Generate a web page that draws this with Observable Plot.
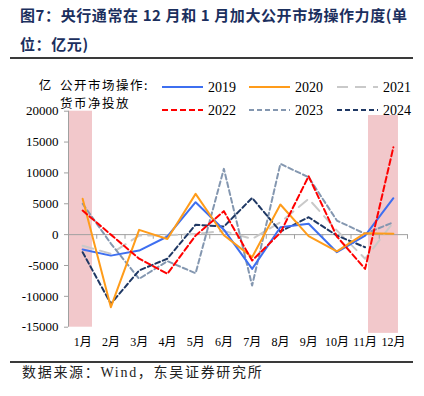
<!DOCTYPE html>
<html>
<head>
<meta charset="utf-8">
<script src="https://cdn.jsdelivr.net/npm/d3@7"></script>
<script src="https://cdn.jsdelivr.net/npm/@observablehq/plot@0.6"></script>
<style>
  html, body { margin: 0; padding: 0; background: #fff; }
  #page { position: relative; width: 424px; height: 396px; overflow: hidden; background: #fff; }
  #title { position: absolute; left: 20px; top: 0px; width: 400px; font-family: "Noto Sans CJK SC", sans-serif; font-weight: bold; font-size: 15px; line-height: 29px; color: #1b2f5e; letter-spacing: 0.6px; white-space: nowrap; }
  .rule { position: absolute; left: 10px; width: 403px; height: 2px; background: #3a3a3a; }
  #chart { position: absolute; left: 0; top: 60px; }
  #legend { position: absolute; left: 0; top: 60px; }
  #source { position: absolute; left: 22px; top: 363px; font-family: "Liberation Serif", "Noto Sans CJK SC", serif; font-size: 14px; line-height: 20px; color: #222; letter-spacing: 1.7px; white-space: nowrap; }
</style>
</head>
<body>
<div id="page">
  <div id="title">图7：央行通常在 12 月和 1 月加大公开市场操作力度(单<br>位：亿元)</div>
  <div class="rule" style="top:57px"></div>
  <div id="chart"></div>
  <svg id="legend" width="424" height="62"></svg>
  <div class="rule" style="top:361px"></div>
  <div id="source">数据来源：Wind，东吴证券研究所</div>
</div>
<script>
// ---- data ----
const months = ["1月","2月","3月","4月","5月","6月","7月","8月","9月","10月","11月","12月"];
const years = ["2019","2020","2021","2022","2023","2024"];
const s2019 = [-2400, -3400, -2580, -300, 5250, 800, -5550, 1200, 1750, -2850, -150, 5900];
const s2020 = [5800, -11760, 770, -700, 6600, -100, -3650, 4880, -250, -2700, 230, 130];
const s2021 = [-1800, -3100, -150, -100, 100, 600, -700, 2000, 5800, 660, -3900, 2000];
const s2022 = [3900, 0, -3900, -6350, -150, 3800, -4200, 300, 9460, -300, -5550, 14150];
const s2023 = [5000, -1450, -7160, -4300, -6250, 10660, -8250, 11470, 9300, 2280, 130, 2000];
const s2024 = [-2850, -11200, -5800, -3900, 1600, 1300, 5950, 500, 2820, -150, -2040];
const yTicks = [-15000, -10000, -5000, 0, 5000, 10000, 15000, 20000];
// highlighted periods (month index units)
const highlightBands = [
  {x1: 0.5, x2: 1.35, y1: -15000, y2: 20000},
  {x1: 11.12, x2: 12.18, y1: -16000, y2: 19300}
];

// ---- styling ----
const seriesValues = [s2019, s2020, s2021, s2022, s2023, s2024];
const styles = {
  "2019": {stroke: "#3e6ff0", dash: null},
  "2020": {stroke: "#ff9c1a", dash: null},
  "2021": {stroke: "#c9c9c9", dash: "11,7"},
  "2022": {stroke: "#ff0000", dash: "6,3"},
  "2023": {stroke: "#8497b0", dash: "5,3"},
  "2024": {stroke: "#1f3864", dash: "5,3"}
};
const drawOrder = ["2021","2023","2024","2019","2020","2022"];
const serif = '"Liberation Serif", "Times New Roman", "Noto Sans CJK SC", serif';

const xDomain = [0.5, months.length + 0.5];
const yDomain = [yTicks[0], yTicks[yTicks.length - 1]];
const monthIdx = months.map((_, i) => i + 1);
const boundaries = months.map((_, i) => i + 1.5);

const rowsFor = y => seriesValues[years.indexOf(y)].map((v, i) => ({m: i + 1, v}));

const lineMarks = drawOrder.map(y => Plot.line(rowsFor(y), {
  x: "m", y: "v",
  stroke: styles[y].stroke,
  strokeWidth: 2,
  strokeDasharray: styles[y].dash,
  strokeLinejoin: "round"
}));

const chart = Plot.plot({
  width: 424, height: 295,
  marginLeft: 68, marginRight: 17, marginTop: 50.7, marginBottom: 28.3,
  x: {domain: xDomain, axis: null},
  y: {domain: yDomain, axis: null},
  style: {fontFamily: serif, fontSize: "13px", background: "transparent", color: "#000"},
  marks: [
    Plot.rect(highlightBands, {x1: "x1", x2: "x2", y1: "y1", y2: "y2", fill: "#f2c8cb"}),
    Plot.ruleX([xDomain[0]], {y1: yDomain[0], y2: yDomain[1], stroke: "#a0a0a0"}),
    Plot.axisY({ticks: yTicks, tickSize: 4, tickPadding: 6, tickFormat: d => String(d), stroke: "#a0a0a0", fill: "#000", fontSize: 13}),
    Plot.ruleY([0], {x1: xDomain[0], x2: xDomain[1], stroke: "#a0a0a0"}),
    Plot.ruleX(boundaries, {y1: 0, y2: -750, stroke: "#a0a0a0"}),
    Plot.axisX({ticks: monthIdx, tickSize: 0, tickPadding: 10, tickFormat: i => months[i - 1], fill: "#000", fontSize: 12}),
    ...lineMarks
  ]
});
document.getElementById("chart").appendChild(chart);

// ---- legend ----
const cjk = '"Noto Sans CJK SC", sans-serif';
const leg = d3.select("#legend");
leg.append("text").attr("x", 45).attr("y", 24).attr("text-anchor", "middle")
  .attr("dominant-baseline", "central").attr("font-family", cjk)
  .attr("font-size", 12.5).attr("fill", "#000").text("亿");
leg.append("text").attr("x", 60).attr("y", 24).attr("dominant-baseline", "central")
  .attr("font-family", cjk).attr("font-size", 12.5).attr("letter-spacing", 1.5)
  .attr("fill", "#000").text("公开市场操作:");
leg.append("text").attr("x", 60).attr("y", 42).attr("dominant-baseline", "central")
  .attr("font-family", cjk).attr("font-size", 12.5).attr("letter-spacing", 1.5)
  .attr("fill", "#000").text("货币净投放");
const colX = [162, 249, 337];
const rowY = [27, 50];
years.forEach((y, i) => {
  const x0 = colX[i % 3], yy = rowY[Math.floor(i / 3)];
  leg.append("line").attr("x1", x0).attr("x2", x0 + 41).attr("y1", yy).attr("y2", yy)
    .attr("stroke", styles[y].stroke).attr("stroke-width", 2)
    .attr("stroke-dasharray", styles[y].dash);
  leg.append("text").attr("x", x0 + 46).attr("y", yy).attr("dominant-baseline", "central")
    .attr("font-family", serif).attr("font-size", 14).attr("fill", "#000").text(y);
});
</script>
</body>
</html>
